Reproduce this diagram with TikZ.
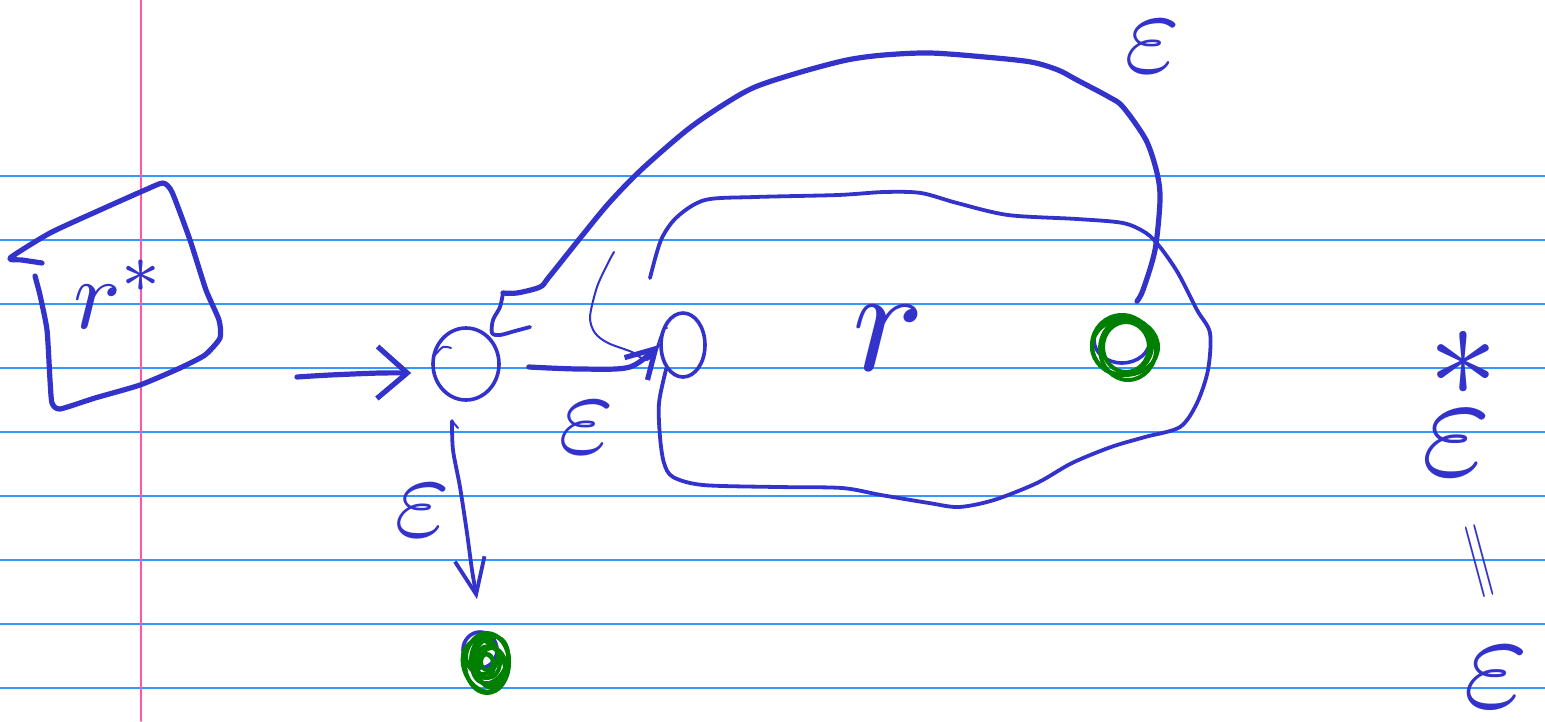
\documentclass[tikz,border=0pt]{standalone}
\usetikzlibrary{arrows.meta,shapes.geometric,calc}
\definecolor{ink}{RGB}{51,51,204}
\definecolor{grn}{RGB}{0,128,0}
\definecolor{ruleblue}{RGB}{51,153,255}
\definecolor{marginpink}{RGB}{255,85,170}
\begin{document}
\begin{tikzpicture}[x=1pt,y=-1pt,line cap=round,line join=round,
  pen/.style={draw=ink,line width=3.8pt},
  thickpen/.style={draw=ink,line width=5.2pt},
  thinpen/.style={draw=ink,line width=2pt},
  scribble/.style={draw=grn,line width=4pt},
  statenode/.style={ellipse,draw=ink,line width=3.6pt,inner sep=0pt},
  lbl/.style={text=ink,inner sep=0pt},
  barb/.style={-{Straight Barb[#1]}}]
\useasboundingbox (0,0) rectangle (1545,721);
\fill[white] (0,0) rectangle (1545,721);
% lined paper
\foreach \yy in {176,240,304,368,432,496,560,624,688}
  \draw[ruleblue,line width=1.5pt] (0,\yy) -- (1545,\yy);
\draw[marginpink,line width=1.5pt] (141,0) -- (141,721);

% box with r*
\draw[thickpen] plot[smooth,tension=0.35] coordinates {(42,263) (22,260) (10,258) (50,233) (100,210) (145,190) (163,183) (172,192) (190,240) (206,290) (219,320) (220,338) (205,355) (180,368) (140,385) (95,398) (60,409) (52,403) (50,380) (47,330) (40,295) (35,276)};
\node[lbl,scale=10] (rstar) at (120,294) {$r^*$};

% states
\node[statenode,minimum width=66pt,minimum height=72pt] (s0) at (466,364) {};
\node[statenode,minimum width=44pt,minimum height=64pt] (s1) at (683,345) {};
\node[statenode,minimum width=56pt,minimum height=46pt] (s2) at (1122,340) {};
\node[statenode,minimum width=34pt,minimum height=36pt] (f0) at (480,650) {};
% accepting scribbles
\draw[scribble] (s2.center) ++(3,7) ellipse [x radius=33,y radius=28];
\draw[scribble] (s2.center) ++(6,9) ellipse [x radius=28,y radius=31];
\draw[scribble] (s2.center) ++(0,5) ellipse [x radius=30,y radius=30];
\draw[scribble] (s2.center) ++(4,7) ellipse [x radius=23,y radius=25];
\draw[scribble] (f0.center) ++(7,13) ellipse [x radius=22,y radius=30];
\draw[scribble] (f0.center) ++(10,10) ellipse [x radius=19,y radius=25];
\draw[scribble,rotate around={25:(484,666)}] (484,666) ellipse [x radius=20,y radius=27];
\draw[scribble,rotate around={-20:(490,660)}] (490,660) ellipse [x radius=17,y radius=24];
\draw[scribble] (f0.center) ++(8,12) ellipse [x radius=12,y radius=16];
\draw[scribble] (f0.center) ++(12,18) ellipse [x radius=14,y radius=20];
\draw[scribble] (f0.center) ++(2,6) ellipse [x radius=16,y radius=18];
\draw[scribble] (f0.center) ++(7,12) ellipse [x radius=6,y radius=8];
\draw[scribble] (f0.center) ++(5,16) ellipse [x radius=9,y radius=12];

% small pen ticks inside states
\draw[thinpen] plot[smooth] coordinates {(435,355) (443,347) (451,348)};
\draw[thinpen] plot[smooth] coordinates {(655,353) (663,330) (667,328)};

% input arrow
\coordinate (in) at (297,377);
\draw[thickpen,barb={length=30pt,width=52pt}] plot[smooth] coordinates {(in) (330,375) (380,373) ($(s0.west)+(-20,9)$)};

% epsilon arrow s0 -> s1
\draw[thickpen,barb={length=28pt,width=32pt}] plot[smooth] coordinates {($(s0.east)+(28,3)$) (580,369) (630,367) (s1.west)};
\node[lbl,scale=12] (e1) at (586,428) {$\varepsilon$};

% epsilon arrow s0 -> f0
\coordinate (d0) at (452,421);
\draw[pen,barb={length=36pt,width=30pt}] plot[smooth] coordinates {(d0) (453,450) (460,487) (467,533) (472,570) ($(f0.north)+(-3,-31)$)};
\draw[thinpen] (d0) -- (458,428);
\node[lbl,scale=12] (e2) at (422,511) {$\varepsilon$};

% box around r
\draw[pen] plot[smooth,tension=0.5] coordinates {(650,278) (661,240) (677,217) (705,200) (755,197) (838,195) (884,192) (921,193) (957,203) (1008,215) (1077,219) (1123,223) (1146,233) (1160,247) (1178,273) (1197,310) (1210,333) (1208,370) (1197,403) (1180,427) (1145,437) (1111,447) (1072,463) (1037,483) (994,500) (959,507) (929,503) (881,495) (842,488) (777,487) (703,485) (673,477) (664,463) (660,437) (659,403) (s1.south west)};
\node[lbl,scale=15] (r) at (888,338) {$r$};

% thin arrow into s1 from above
\draw[thinpen] plot[smooth] coordinates {(614,252) (608,263) (597,287) (590,317) (595,333) (608,343) (632,352) (647,360) (s1.west)};

% big epsilon arc from accepting state back
\draw[thickpen] plot[smooth,tension=0.5] coordinates {($(s2.north)+(15,-14)$) (1143,290) (1155,250) (1160,200) (1157,173) (1146,140) (1123,107) (1109,97) (1077,80) (1058,70) (1031,62) (985,57) (930,53) (884,55) (847,60) (801,72) (755,87) (723,105) (687,130) (641,170) (609,203) (581,237) (549,277) (540,287) (517,293) (503,293)};
\draw[pen] plot[smooth] coordinates {(503,293) (500,307) (493,320) (492,333) (500,335) (515,331) (530,327)};
\node[lbl,scale=12] (e3) at (1152,47) {$\varepsilon$};

% right-hand note
\node[lbl,scale=14] (star) at (1463,364) {$*$};
\node[lbl,scale=15] (e4) at (1456,443) {$\varepsilon$};
\node[lbl,rotate=105,xscale=11,yscale=4.5] (eq) at (1482,560) {$=$};
\node[lbl,scale=14] (e5) at (1496,677) {$\varepsilon$};
\end{tikzpicture}
\end{document}
